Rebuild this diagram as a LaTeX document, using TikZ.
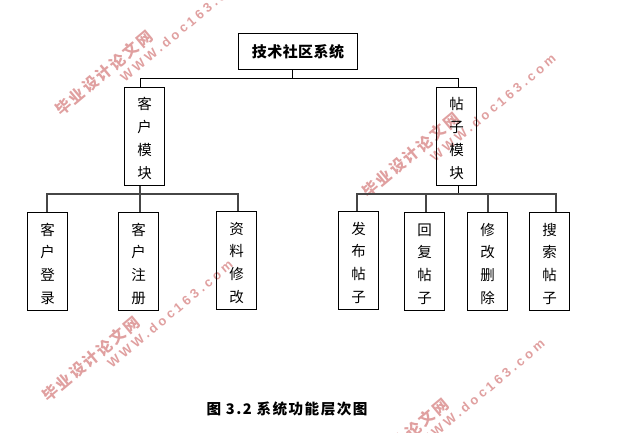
\documentclass[tikz,border=0pt]{standalone}
\usepackage{fontspec}
\setmainfont{Liberation Serif}
\newfontfamily\cjkfont{Noto Sans CJK SC}
\newfontfamily\cjkwide[LetterSpace=3]{Noto Sans CJK SC}
\newfontfamily\capfont[LetterSpace=10]{Noto Sans CJK SC}
\newfontfamily\markcjk[LetterSpace=14]{Noto Sans CJK SC}
\newfontfamily\marklatin[LetterSpace=26]{Liberation Sans}
\definecolor{markpink}{RGB}{224,160,160}
\definecolor{busgray}{RGB}{70,70,70}
\tikzset{
	titlebox/.style={draw,line width=0.9pt,minimum width=119bp,minimum height=36bp,inner sep=0pt,font=\cjkwide\fontsize{15bp}{16bp}\selectfont\bfseries},
	modbox/.style={draw,line width=0.9pt,minimum width=40bp,minimum height=98bp,inner sep=0pt,align=center,font=\cjkfont\fontsize{14.5bp}{22.7bp}\selectfont,text height=86.4bp,text depth=3bp},
	busline/.style={line width=1pt},
	grayline/.style={line width=1.2pt,busgray},
	markcn/.style={text=markpink,rotate=40,font=\markcjk\fontsize{15.5bp}{16bp}\selectfont\bfseries},
	markwww/.style={text=markpink,rotate=40,font=\marklatin\fontsize{13bp}{14bp}\selectfont\bfseries}
}
\begin{document}
\begin{tikzpicture}[x=1bp,y=-1bp]
	\useasboundingbox (0,0) rectangle (618,432);
	\clip (0,0) rectangle (618,432);
	\foreach \n/\cx/\cy/\ex/\ey in {a/104/73/183/28, b/411/155/493/108, c/91/359/170/314, d/400/441/482/393}
	{
		\node[markcn] (cn\n) at (\cx,\cy) {毕业设计论文网};
		\node[markwww] (www\n) at (\ex,\ey) {WWW.doc163.com};
	}
	\node[titlebox] (sys) at (298,51.5) {技术社区系统};
	\node[modbox] (client) at (144.5,136.3) {客\\户\\模\\块};
	\node[modbox] (post) at (456.5,136.3) {帖\\子\\模\\块};
	\node[modbox] (login) at (47.5,261.5) {客\\户\\登\\录};
	\node[modbox] (reg) at (138.5,261.5) {客\\户\\注\\册};
	\node[modbox] (info) at (236.5,260.5) {资\\料\\修\\改};
	\node[modbox] (pub) at (358.5,260.5) {发\\布\\帖\\子};
	\node[modbox] (reply) at (424.5,261.5) {回\\复\\帖\\子};
	\node[modbox] (edit) at (487.5,261.5) {修\\改\\删\\除};
	\node[modbox] (find) at (549.5,261.5) {搜\\索\\帖\\子};
	\node[font=\capfont\fontsize{14.6bp}{16bp}\selectfont\bfseries] (cap) at (287,409) {图 3.2 系统功能层次图};
	% bus lines
	\coordinate (sysbus) at (292,78.5);
	\coordinate (clientbus) at (140,194);
	\coordinate (postbus) at (458,194);
	\draw[busline] (sys.south -| sysbus) -- (sysbus);
	\draw[busline] (client.north -| clientbus) |- (sysbus) -| (post.north -| postbus);
	\draw[grayline] (client.south -| clientbus) -- (clientbus);
	\draw[grayline] (login.north -| 47,0) |- (clientbus) -| (info.north -| 238,0);
	\draw[grayline] (clientbus) -- (reg.north -| clientbus);
	\draw[busline] (post.south -| postbus) -- (postbus);
	\draw[grayline] (pub.north -| 357,0) |- (postbus) -| (find.north -| 556,0);
	\draw[grayline] (reply.north -| 426,0) |- (postbus);
	\draw[grayline] (edit.north -| 488,0) |- (postbus);
\end{tikzpicture}
\end{document}
